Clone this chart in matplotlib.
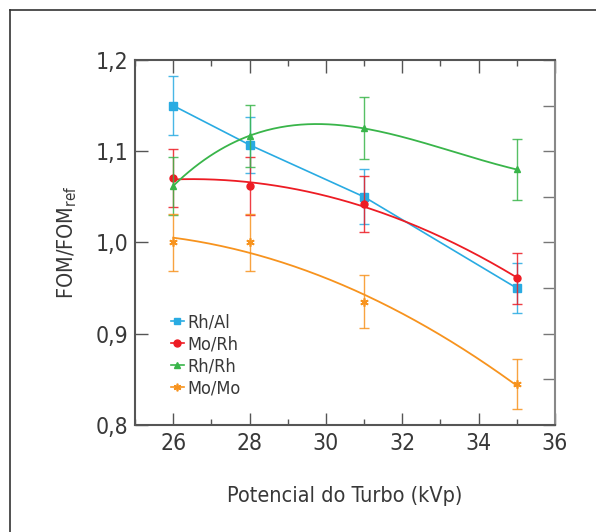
import matplotlib.pyplot as plt
import numpy as np
from matplotlib.lines import Line2D
from matplotlib.ticker import FuncFormatter, MultipleLocator

plt.rcParams['font.family'] = ['DejaVu Sans']
plt.rcParams['font.stretch'] = 'condensed'

kvp = [26, 28, 31, 35]

rh_al = [1.150, 1.107, 1.050, 0.950]
rh_al_err = [0.032, 0.031, 0.030, 0.027]

mo_rh = [1.071, 1.062, 1.042, 0.961]
mo_rh_err = [0.032, 0.032, 0.031, 0.028]

rh_rh = [1.062, 1.117, 1.125, 1.080]
rh_rh_err = [0.032, 0.034, 0.034, 0.033]

mo_mo = [1.000, 1.000, 0.935, 0.845]
mo_mo_err = [0.031, 0.031, 0.029, 0.027]

text_col = '#383838'
blue = '#29abe2'
red = '#ed1c24'
green = '#39b54a'
orange = '#f7931e'
asterisk = (6, 2, 0)

fig = plt.figure(figsize=(5.96, 5.32), dpi=100)
ax = fig.add_axes([135 / 596, 1 - 425 / 532, 420 / 596, 365 / 532])

# outer frame (cropped box)
fig.add_artist(Line2D([10 / 596, 10 / 596], [0, 1 - 10 / 532], transform=fig.transFigure, color='#333333', lw=1.2))
fig.add_artist(Line2D([10 / 596, 1], [1 - 10 / 532, 1 - 10 / 532], transform=fig.transFigure, color='#333333', lw=1.2))


def smooth(x, y, deg):
    p = np.polyfit(x, y, deg)
    xs = np.linspace(min(x), max(x), 200)
    return xs, np.polyval(p, xs)


err_kw = dict(capsize=3.5, elinewidth=1.0, capthick=1.0, ls='none', alpha=0.85)

# Rh/Al: straight segments
ax.errorbar(kvp, rh_al, yerr=rh_al_err, color=blue, **err_kw)
ax.plot(kvp, rh_al, color=blue, lw=1.2, marker='s', ms=6)

# Mo/Rh
ax.errorbar(kvp, mo_rh, yerr=mo_rh_err, color=red, **err_kw)
xs, ys = smooth(kvp, mo_rh, 2)
ax.plot(xs, ys, color=red, lw=1.3)
ax.plot(kvp, mo_rh, color=red, ls='none', marker='o', ms=5)

# Rh/Rh
ax.errorbar(kvp, rh_rh, yerr=rh_rh_err, color=green, **err_kw)
xs, ys = smooth(kvp, rh_rh, 3)
ax.plot(xs, ys, color=green, lw=1.3)
ax.plot(kvp, rh_rh, color=green, ls='none', marker='^', ms=5)

# Mo/Mo
ax.errorbar(kvp, mo_mo, yerr=mo_mo_err, color=orange, **err_kw)
xs, ys = smooth(kvp, mo_mo, 2)
ax.plot(xs, ys, color=orange, lw=1.3)
ax.plot(kvp, mo_mo, color=orange, ls='none', marker=asterisk, ms=6, mew=1.2)

handles = [
    Line2D([], [], color=blue, marker='s', ms=5, lw=1.2),
    Line2D([], [], color=red, marker='o', ms=5, lw=1.2),
    Line2D([], [], color=green, marker='^', ms=5, lw=1.2),
    Line2D([], [], color=orange, marker=asterisk, ms=5.5, mew=1.2, lw=1.2),
]
leg = ax.legend(handles, ['Rh/Al', 'Mo/Rh', 'Rh/Rh', 'Mo/Mo'], loc='upper left',
                bbox_to_anchor=(0.085, 0.305), frameon=False, handlelength=0.75,
                handletextpad=0.15, labelspacing=0.22, fontsize=13, borderaxespad=0,
                borderpad=0)
for t in leg.get_texts():
    t.set_color(text_col)

ax.set_xlim(25, 36)
ax.set_ylim(0.8, 1.2)
ax.xaxis.set_major_locator(MultipleLocator(2))
ax.xaxis.set_minor_locator(MultipleLocator(1))
ax.yaxis.set_major_locator(MultipleLocator(0.1))
ax.yaxis.set_major_formatter(FuncFormatter(lambda v, pos: f'{v:.1f}'.replace('.', ',')))

ax.tick_params(axis='both', which='major', direction='in', length=9, width=1,
               color='#555555', labelsize=16.5, labelcolor=text_col, top=True, pad=5)
ax.tick_params(axis='x', which='minor', direction='in', length=4.5, width=1,
               color='#555555', top=True)
ax.tick_params(axis='y', which='both', right=False)

# right side has ticks every 0.05
sec = ax.secondary_yaxis('right')
sec.yaxis.set_major_locator(MultipleLocator(0.05))
sec.tick_params(direction='in', length=9, width=1, color='#777777', labelright=False)
sec.spines['right'].set_visible(False)

for s in ax.spines.values():
    s.set_color('#555555')
    s.set_linewidth(1.5)
ax.spines['right'].set_color('#888888')

ax.set_xlabel('Potencial do Turbo (kVp)', fontsize=15.5, color=text_col, labelpad=22)
ax.set_ylabel('FOM/FOM$_\\mathregular{ref}$', fontsize=15.5, color=text_col, labelpad=12)

fig.savefig('out.png', dpi=100)
